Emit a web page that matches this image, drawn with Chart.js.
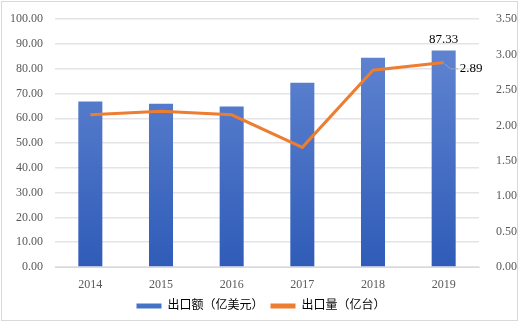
<!DOCTYPE html>
<html>
<head>
<meta charset="utf-8">
<script src="https://cdn.jsdelivr.net/npm/chart.js@4/dist/chart.umd.min.js"></script>
<style>
  html, body { margin: 0; padding: 0; background: #fff; }
  .frame { position: absolute; left: 1px; top: 1px; width: 517px; height: 320px; border: 1px solid #d9d9d9; box-sizing: border-box; }
  .wrap { position: absolute; left: 0; top: 0; width: 522px; height: 323px; }
</style>
</head>
<body>
<div class="frame"></div>
<div class="wrap"><canvas id="chart"></canvas></div>
<script>
// Data
const years = ['2014', '2015', '2016', '2017', '2018', '2019'];
const exportValue = [66.8, 65.9, 64.8, 74.4, 84.4, 87.33];   // 出口额（亿美元）
const exportVolume = [2.15, 2.20, 2.15, 1.69, 2.78, 2.89];   // 出口量（亿台）

const serif = "'Liberation Serif', 'Times New Roman', serif";
const cjk = "'Liberation Serif', 'Noto Sans CJK SC', serif";

// Last-point labels (87.33 on the bar, 2.89 beside the line with a leader)
const endLabels = {
  id: 'endLabels',
  afterDatasetsDraw(chart) {
    const ctx = chart.ctx;
    const last = years.length - 1;
    const bar = chart.getDatasetMeta(0).data[last];
    const pt = chart.getDatasetMeta(1).data[last];
    ctx.save();
    ctx.fillStyle = '#000';
    ctx.font = '13px ' + serif;
    ctx.textAlign = 'center';
    ctx.textBaseline = 'alphabetic';
    ctx.fillText(exportValue[last].toFixed(2), bar.x, bar.y - 8);
    // leader line
    ctx.strokeStyle = '#a6a6a6';
    ctx.lineWidth = 0.8;
    ctx.beginPath();
    ctx.moveTo(pt.x + 1, pt.y + 1.5);
    ctx.lineTo(pt.x + 7, pt.y + 6.5);
    ctx.lineTo(pt.x + 14, pt.y + 6.5);
    ctx.stroke();
    ctx.textAlign = 'left';
    ctx.textBaseline = 'middle';
    ctx.fillText(exportVolume[last].toFixed(2), pt.x + 16, pt.y + 6.5);
    ctx.restore();
  }
};

const canvas = document.getElementById('chart');
new Chart(canvas, {
  type: 'bar',
  data: {
    labels: years,
    datasets: [
      {
        label: '出口额（亿美元）',
        data: exportValue,
        yAxisID: 'y',
        order: 2,
        barPercentage: 0.68,
        categoryPercentage: 0.5,
        backgroundColor: (c) => {
          const area = c.chart.chartArea;
          if (!area) return '#4472c4';
          const g = c.chart.ctx.createLinearGradient(0, area.top, 0, area.bottom);
          g.addColorStop(0, '#6689d4');
          g.addColorStop(1, '#2f5cb8');
          return g;
        }
      },
      {
        type: 'line',
        label: '出口量（亿台）',
        data: exportVolume,
        yAxisID: 'y1',
        order: 1,
        borderColor: '#ed7d31',
        backgroundColor: '#ed7d31',
        borderWidth: 3,
        pointRadius: 0,
        tension: 0
      }
    ]
  },
  options: {
    responsive: true,
    maintainAspectRatio: false,
    animation: false,
    layout: { padding: { left: 0, right: 0, top: 4, bottom: 1 } },
    scales: {
      x: {
        grid: { display: false, drawTicks: false },
        border: { display: true, color: '#d9d9d9' },
        ticks: { color: '#595959', font: { family: serif, size: 12 }, padding: 11 },
        afterFit: (s) => { s.height = 26; }
      },
      y: {
        position: 'left',
        min: 0,
        max: 100,
        grid: { color: '#e3e3e8', drawTicks: false, lineWidth: 1.5 },
        border: { display: false },
        ticks: {
          stepSize: 10,
          color: '#595959',
          font: { family: serif, size: 12 },
          padding: 12,
          callback: (v) => v.toFixed(2)
        },
        afterFit: (s) => { s.width = 55; }
      },
      y1: {
        position: 'right',
        min: 0,
        max: 3.5,
        grid: { display: false },
        border: { display: false },
        ticks: {
          stepSize: 0.5,
          color: '#595959',
          font: { family: serif, size: 12 },
          padding: 9,
          callback: (v) => v.toFixed(2)
        },
        afterFit: (s) => { s.width = 43; }
      }
    },
    plugins: {
      legend: {
        position: 'bottom',
        labels: {
          boxWidth: 25,
          boxHeight: 5,
          color: '#595959',
          font: { family: cjk, size: 12 },
          padding: 7,
          generateLabels: (chart) => chart.data.datasets.map((ds, i) => ({
            text: ds.label,
            fillStyle: i === 0 ? '#4472c4' : '#ed7d31',
            strokeStyle: i === 0 ? '#4472c4' : '#ed7d31',
            lineWidth: 0,
            datasetIndex: i,
            hidden: false
          }))
        }
      },
      tooltip: { enabled: false }
    }
  },
  plugins: [endLabels]
});
</script>
</body>
</html>
